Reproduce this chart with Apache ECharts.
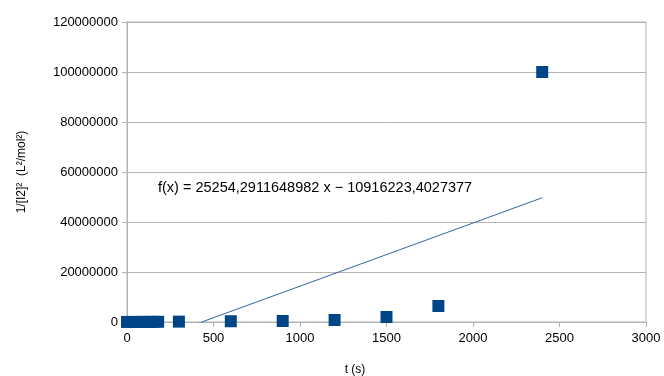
<!DOCTYPE html>
<html>
<head>
<meta charset="utf-8">
<script src="https://cdn.jsdelivr.net/npm/echarts@6/dist/echarts.min.js"></script>
<style>
  html, body { margin: 0; padding: 0; background: #fff; }
  #chart { width: 664px; height: 376px; }
</style>
</head>
<body>
<div id="chart"></div>
<script>
// measured points: time (s) and 1/[I2]^2
let times = [0, 30, 60, 90, 120, 150, 180, 300, 600, 900, 1200, 1500, 1800, 2400];
let values = [20000, 25000, 30000, 40000, 50000, 60000, 80000, 150000, 300000, 400000, 800000, 2000000, 6400000, 100000000];

// linear trend line from the spreadsheet
let slope = 25254.2911648982;
let intercept = -10916223.4027377;
let trendX = [0, 2400];

let xTicks = [0, 500, 1000, 1500, 2000, 2500, 3000];
let yTicks = [0, 20000000, 40000000, 60000000, 80000000, 100000000, 120000000];

let points = times.map((t, i) => [t, values[i]]);
let trend = trendX.map(t => [t, slope * t + intercept]);

let myChart = echarts.init(document.getElementById("chart"));
let option = {
    backgroundColor: "#ffffff",
    animation: false,
    textStyle: { fontFamily: 'Liberation Sans' },
    grid: {
        left: 127,
        right: 18,
        top: 22,
        bottom: 54,
        outerBoundsMode: 'none',
        containLabel: false,
        show: true,
        borderColor: '#b3b3b3',
        borderWidth: 1
    },
    graphic: [{
        type: 'text',
        left: 158,
        top: 180,
        style: {
            text: 'f(x) = 25254,2911648982 x \u2212 10916223,4027377',
            fontSize: 14.5,
            fontFamily: 'Liberation Sans',
            fill: '#000000'
        }
    }],
    xAxis: {
        type: 'value',
        min: xTicks[0],
        max: xTicks[xTicks.length - 1],
        interval: 500,
        name: 't (s)',
        nameLocation: 'middle',
        nameGap: 42,
        nameTextStyle: { color: '#000', fontSize: 12, padding: [0, 63, 0, 0] },
        axisLine: { show: true, lineStyle: { color: '#b3b3b3' } },
        axisTick: { show: true, length: 5, lineStyle: { color: '#b3b3b3' } },
        splitLine: { show: false },
        axisLabel: { color: '#000', fontSize: 13, margin: 10, formatter: v => String(v) }
    },
    yAxis: {
        type: 'value',
        min: yTicks[0],
        max: yTicks[yTicks.length - 1],
        interval: 20000000,
        name: '1/[I2]\u00b2  (L\u00b2/mol\u00b2)',
        nameLocation: 'middle',
        nameGap: 99,
        nameTextStyle: { color: '#000', fontSize: 12 },
        axisLine: { show: true, lineStyle: { color: '#b3b3b3' } },
        axisTick: { show: true, length: 5, lineStyle: { color: '#b3b3b3' } },
        splitLine: { show: true, lineStyle: { color: '#b3b3b3', width: 1 } },
        axisLabel: { color: '#000', fontSize: 13, margin: 9, formatter: v => String(v) }
    },
    series: [{
        name: 'trend',
        type: 'line',
        data: trend,
        showSymbol: false,
        symbol: 'none',
        clip: true,
        lineStyle: { color: '#3465a4', width: 1 },
        z: 1
    }, {
        name: 'data',
        type: 'scatter',
        data: points,
        symbol: 'rect',
        symbolSize: 12,
        itemStyle: { color: '#004586', opacity: 1 },
        z: 2
    }]
};
myChart.setOption(option);
</script>
</body>
</html>
